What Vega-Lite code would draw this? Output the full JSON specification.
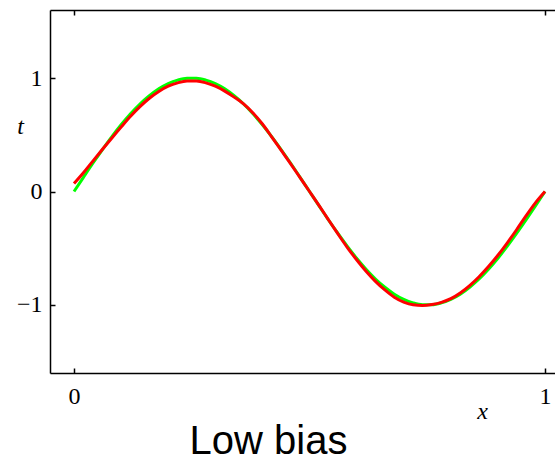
{
  "$schema": "https://vega.github.io/schema/vega-lite/v6.json",
  "width": 505,
  "height": 363,
  "autosize": {"type": "none"},
  "padding": {"left": 50, "top": 10, "right": 0, "bottom": 89},
  "background": "white",
  "config": {"view": {"stroke": null}, "axis": {"grid": false, "domainColor": "black", "tickColor": "black", "domainWidth": 1.5, "tickWidth": 1.5, "labelFont": "Liberation Serif", "labelFontSize": 24, "labelColor": "black", "titleFont": "Liberation Serif", "titleFontStyle": "italic", "titleFontWeight": "normal", "titleFontSize": 24, "titleColor": "black"}},
  "title": {"text": "Low bias", "orient": "bottom", "anchor": "middle", "frame": "group", "dx": -34, "offset": -1, "font": "Liberation Sans", "fontSize": 40, "fontWeight": "normal", "color": "black"},
  "datasets": {
    "curves": [
      {"x": 0.00, "t": 0.000, "s": "true"}, {"x": 0.02, "t": 0.125, "s": "true"}, {"x": 0.04, "t": 0.249, "s": "true"}, {"x": 0.06, "t": 0.368, "s": "true"}, {"x": 0.08, "t": 0.482, "s": "true"}, {"x": 0.10, "t": 0.588, "s": "true"}, {"x": 0.12, "t": 0.685, "s": "true"}, {"x": 0.14, "t": 0.771, "s": "true"}, {"x": 0.16, "t": 0.844, "s": "true"}, {"x": 0.18, "t": 0.905, "s": "true"}, {"x": 0.20, "t": 0.951, "s": "true"}, {"x": 0.22, "t": 0.982, "s": "true"}, {"x": 0.24, "t": 0.998, "s": "true"}, {"x": 0.26, "t": 0.998, "s": "true"}, {"x": 0.28, "t": 0.982, "s": "true"}, {"x": 0.30, "t": 0.951, "s": "true"}, {"x": 0.32, "t": 0.905, "s": "true"}, {"x": 0.34, "t": 0.844, "s": "true"}, {"x": 0.36, "t": 0.771, "s": "true"}, {"x": 0.38, "t": 0.685, "s": "true"}, {"x": 0.40, "t": 0.588, "s": "true"}, {"x": 0.42, "t": 0.482, "s": "true"}, {"x": 0.44, "t": 0.368, "s": "true"}, {"x": 0.46, "t": 0.249, "s": "true"}, {"x": 0.48, "t": 0.125, "s": "true"}, {"x": 0.50, "t": 0.000, "s": "true"}, {"x": 0.52, "t": -0.125, "s": "true"}, {"x": 0.54, "t": -0.249, "s": "true"}, {"x": 0.56, "t": -0.368, "s": "true"}, {"x": 0.58, "t": -0.482, "s": "true"}, {"x": 0.60, "t": -0.588, "s": "true"}, {"x": 0.62, "t": -0.685, "s": "true"}, {"x": 0.64, "t": -0.771, "s": "true"}, {"x": 0.66, "t": -0.844, "s": "true"}, {"x": 0.68, "t": -0.905, "s": "true"}, {"x": 0.70, "t": -0.951, "s": "true"}, {"x": 0.72, "t": -0.982, "s": "true"}, {"x": 0.74, "t": -0.998, "s": "true"}, {"x": 0.76, "t": -0.998, "s": "true"}, {"x": 0.78, "t": -0.982, "s": "true"}, {"x": 0.80, "t": -0.951, "s": "true"}, {"x": 0.82, "t": -0.905, "s": "true"}, {"x": 0.84, "t": -0.844, "s": "true"}, {"x": 0.86, "t": -0.771, "s": "true"}, {"x": 0.88, "t": -0.685, "s": "true"}, {"x": 0.90, "t": -0.588, "s": "true"}, {"x": 0.92, "t": -0.482, "s": "true"}, {"x": 0.94, "t": -0.368, "s": "true"}, {"x": 0.96, "t": -0.249, "s": "true"}, {"x": 0.98, "t": -0.125, "s": "true"}, {"x": 1.00, "t": 0.000, "s": "true"},
      {"x": 0.00, "t": 0.070, "s": "fit"}, {"x": 0.02, "t": 0.165, "s": "fit"}, {"x": 0.04, "t": 0.268, "s": "fit"}, {"x": 0.06, "t": 0.370, "s": "fit"}, {"x": 0.08, "t": 0.470, "s": "fit"}, {"x": 0.10, "t": 0.568, "s": "fit"}, {"x": 0.12, "t": 0.663, "s": "fit"}, {"x": 0.14, "t": 0.748, "s": "fit"}, {"x": 0.16, "t": 0.822, "s": "fit"}, {"x": 0.18, "t": 0.882, "s": "fit"}, {"x": 0.20, "t": 0.928, "s": "fit"}, {"x": 0.22, "t": 0.958, "s": "fit"}, {"x": 0.24, "t": 0.974, "s": "fit"}, {"x": 0.26, "t": 0.974, "s": "fit"}, {"x": 0.28, "t": 0.958, "s": "fit"}, {"x": 0.30, "t": 0.928, "s": "fit"}, {"x": 0.32, "t": 0.885, "s": "fit"}, {"x": 0.34, "t": 0.832, "s": "fit"}, {"x": 0.36, "t": 0.772, "s": "fit"}, {"x": 0.38, "t": 0.692, "s": "fit"}, {"x": 0.40, "t": 0.595, "s": "fit"}, {"x": 0.42, "t": 0.480, "s": "fit"}, {"x": 0.44, "t": 0.362, "s": "fit"}, {"x": 0.46, "t": 0.244, "s": "fit"}, {"x": 0.48, "t": 0.122, "s": "fit"}, {"x": 0.50, "t": 0.000, "s": "fit"}, {"x": 0.52, "t": -0.122, "s": "fit"}, {"x": 0.54, "t": -0.248, "s": "fit"}, {"x": 0.56, "t": -0.372, "s": "fit"}, {"x": 0.58, "t": -0.492, "s": "fit"}, {"x": 0.60, "t": -0.602, "s": "fit"}, {"x": 0.62, "t": -0.703, "s": "fit"}, {"x": 0.64, "t": -0.792, "s": "fit"}, {"x": 0.66, "t": -0.868, "s": "fit"}, {"x": 0.68, "t": -0.932, "s": "fit"}, {"x": 0.70, "t": -0.975, "s": "fit"}, {"x": 0.72, "t": -0.999, "s": "fit"}, {"x": 0.74, "t": -1.005, "s": "fit"}, {"x": 0.76, "t": -0.996, "s": "fit"}, {"x": 0.78, "t": -0.977, "s": "fit"}, {"x": 0.80, "t": -0.945, "s": "fit"}, {"x": 0.82, "t": -0.895, "s": "fit"}, {"x": 0.84, "t": -0.830, "s": "fit"}, {"x": 0.86, "t": -0.752, "s": "fit"}, {"x": 0.88, "t": -0.662, "s": "fit"}, {"x": 0.90, "t": -0.562, "s": "fit"}, {"x": 0.92, "t": -0.452, "s": "fit"}, {"x": 0.94, "t": -0.335, "s": "fit"}, {"x": 0.96, "t": -0.213, "s": "fit"}, {"x": 0.98, "t": -0.098, "s": "fit"}, {"x": 1.00, "t": 0.000, "s": "fit"}
    ]
  },
  "resolve": {"axis": {"x": "independent"}},
  "layer": [
    {
      "data": {"name": "curves"},
      "mark": {"type": "line", "strokeWidth": 3, "interpolate": "monotone"},
      "encoding": {
        "x": {"field": "x", "type": "quantitative", "scale": {"domain": [-0.051, 1.0212], "nice": false, "zero": false}, "axis": {"orient": "bottom", "values": [0, 1], "format": "d", "tickSize": -5, "labelPadding": 16, "title": "x", "titleX": 432, "titleY": 38, "titleAngle": 0, "titleAlign": "center", "titleBaseline": "middle"}},
        "y": {"field": "t", "type": "quantitative", "scale": {"domain": [-1.6, 1.6], "nice": false, "zero": false}, "axis": {"values": [-1, 0, 1], "tickSize": -5, "labelPadding": 13, "labelExpr": "datum.value < 0 ? '−' + abs(datum.value) : datum.label", "title": "t", "titleX": -30, "titleY": 116, "titleAngle": 0, "titleAlign": "center", "titleBaseline": "middle"}},
        "color": {"field": "s", "type": "nominal", "scale": {"domain": ["true", "fit"], "range": ["#00ff00", "#ff0000"]}, "legend": null},
        "order": {"field": "s", "sort": "descending"}
      }
    },
    {
      "data": {"values": [{"x": 0}, {"x": 1}]},
      "mark": {"type": "point", "opacity": 0},
      "encoding": {
        "x": {"field": "x", "type": "quantitative", "scale": {"domain": [-0.051, 1.0212], "nice": false, "zero": false}, "axis": {"orient": "top", "values": [0, 1], "tickSize": -5, "labels": false, "title": null}}
      }
    }
  ]
}
